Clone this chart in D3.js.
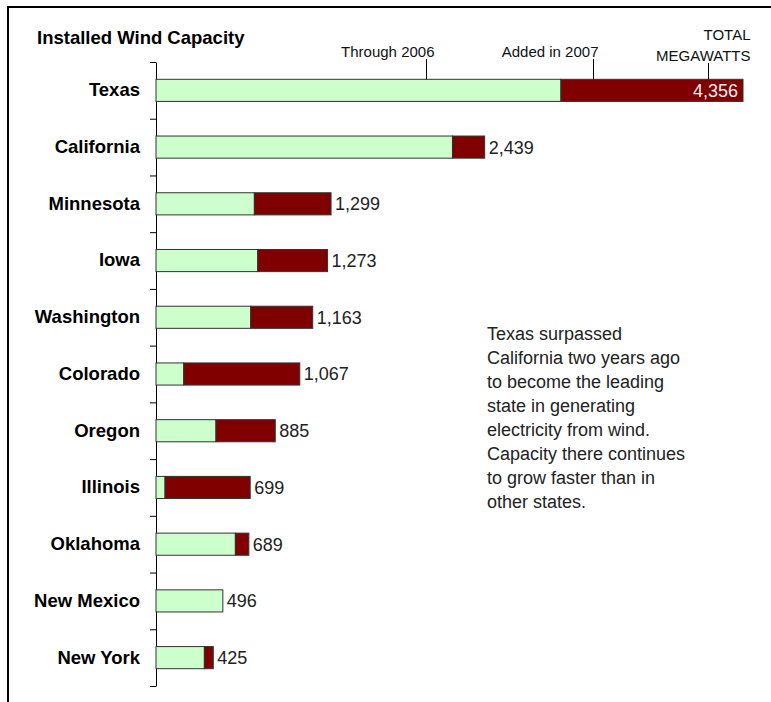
<!DOCTYPE html>
<html>
<head>
<meta charset="utf-8">
<script src="https://cdn.jsdelivr.net/npm/d3@7"></script>
<style>
body { margin: 0; background: #fff; }
svg text { font-family: Arial, "Liberation Sans", sans-serif; }
</style>
</head>
<body>
<div id="chart"></div>
<script>

// data (megawatts)
var states = ["Texas", "California", "Minnesota", "Iowa", "Washington", "Colorado",
              "Oregon", "Illinois", "Oklahoma", "New Mexico", "New York"];
var through2006 = [3005, 2200, 730, 755, 703, 206, 445, 67, 589, 496, 359];
var added2007   = [1351, 239, 569, 518, 460, 861, 440, 632, 100, 0, 66];
var totals      = [4356, 2439, 1299, 1273, 1163, 1067, 885, 699, 689, 496, 425];

var noteLines = ["Texas surpassed", "California two years ago", "to become the leading",
                 "state in generating", "electricity from wind.", "Capacity there continues",
                 "to grow faster than in", "other states."];

var W = 771, H = 702;

var svg = d3.select("#chart")
	.append("svg")
		.attr("width", W)
		.attr("height", H);

// frame (cropped at right/bottom like the original)
svg.append("rect")
	.attr("x", 8).attr("y", 7)
	.attr("width", 900).attr("height", 900)
	.attr("fill", "none")
	.attr("stroke", "#000")
	.attr("stroke-width", 2);

// scales
var x = d3.scaleLinear()
	.domain([0, d3.max(totals)])
	.range([156, 743]);

var y = d3.scaleBand()
	.domain(states)
	.range([62, 686])
	.paddingInner(0.61)
	.paddingOuter(0.305);

// tick marks sit between the bars
var yEdge = d3.scaleLinear()
	.domain([0, states.length])
	.range([62, 686]);

svg.append("g")
	.attr("transform", "translate(156,0)")
	.call(d3.axisLeft(yEdge)
		.tickValues(d3.range(states.length + 1))
		.tickFormat("")
		.tickSize(6)
		.tickSizeOuter(0))
	.call(function(g) { g.selectAll("line,path").attr("stroke", "#000"); });

// state labels
var yAxis = svg.append("g")
	.attr("transform", "translate(156,0)")
	.call(d3.axisLeft(y).tickSize(0).tickPadding(16));
yAxis.select(".domain").remove();
yAxis.selectAll("text")
	.attr("font-family", "Arial, 'Liberation Sans', sans-serif")
	.attr("font-size", "18.5px")
	.attr("font-weight", "bold")
	.attr("fill", "#000");

var rows = states.map(function(s, i) {
	return {name: s, a: through2006[i], b: added2007[i], total: totals[i]};
});

// bars
svg.selectAll("rect.old")
	.data(rows)
	.enter()
	.append("rect")
		.attr("class", "old")
		.attr("x", x(0))
		.attr("y", function(d) { return y(d.name); })
		.attr("width", function(d) { return x(d.a) - x(0); })
		.attr("height", y.bandwidth())
		.attr("fill", "#ccffcc")
		.attr("stroke", "#333")
		.attr("stroke-width", 1);

svg.selectAll("rect.new")
	.data(rows.filter(function(d) { return d.b > 0; }))
	.enter()
	.append("rect")
		.attr("class", "new")
		.attr("x", function(d) { return x(d.a); })
		.attr("y", function(d) { return y(d.name); })
		.attr("width", function(d) { return x(d.a + d.b) - x(d.a); })
		.attr("height", y.bandwidth())
		.attr("fill", "#800000")
		.attr("stroke", "#333")
		.attr("stroke-width", 1);

// total labels
var maxTotal = d3.max(totals);
svg.selectAll("text.total")
	.data(rows)
	.enter()
	.append("text")
		.attr("class", "total")
		.attr("x", function(d) { return d.total === maxTotal ? x(d.total) - 5 : x(d.total) + 4; })
		.attr("y", function(d) { return y(d.name) + y.bandwidth() / 2; })
		.attr("dy", "0.36em")
		.attr("text-anchor", function(d) { return d.total === maxTotal ? "end" : "start"; })
		.attr("font-size", "18px")
		.attr("fill", function(d) { return d.total === maxTotal ? "#f0f0f0" : "#222"; })
		.text(function(d) { return d3.format(",")(d.total); });

// title
svg.append("text")
	.attr("x", 37).attr("y", 44)
	.attr("font-size", "18.5px")
	.attr("font-weight", "bold")
	.attr("fill", "#000")
	.text("Installed Wind Capacity");

// callouts pointing at the Texas bar
var top0 = y(states[0]);
var callouts = [
	{lines: ["Through 2006"], at: 2000, dx: 8, y0: 57, ly: 59},
	{lines: ["Added in 2007"], at: 3245, dx: 5, y0: 57, ly: 59},
	{lines: ["TOTAL", "MEGAWATTS"], at: 4095, dx: 42, y0: 40, ly: 63}
];
callouts.forEach(function(c) {
	var cx = Math.round(x(c.at)) + 0.5;
	svg.append("line")
		.attr("x1", cx).attr("x2", cx)
		.attr("y1", c.ly).attr("y2", top0)
		.attr("stroke", "#000");
	c.lines.forEach(function(t, k) {
		svg.append("text")
			.attr("x", cx + c.dx)
			.attr("y", c.y0 + k * 21)
			.attr("text-anchor", "end")
			.attr("font-size", "15px")
			.attr("fill", "#111")
			.text(t);
	});
});

// note
svg.append("g")
	.selectAll("text")
	.data(noteLines)
	.enter()
	.append("text")
		.attr("x", 487)
		.attr("y", function(d, i) { return 340 + i * 24; })
		.attr("font-size", "18px")
		.attr("fill", "#222")
		.text(function(d) { return d; });

</script>
</body>
</html>
